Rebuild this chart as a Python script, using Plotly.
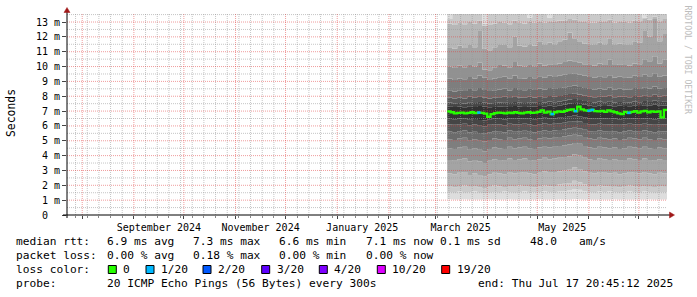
import pandas as pd
import plotly.graph_objects as go

# ------------------------------------------------------------------ data
END_TIME = "2025-07-17 20:45:12"
SPAN_DAYS = 360
SMOKE_START = "2025-03-08"
SMOKE_STEP = "3D"
MEDIAN_STEP = "2D"

# 20 sorted ping round-trip times (ms), one value per 3-day bin
ping_01 = [1.06,1.05,1.05,1.06,1.05,1.05,1.04,1.05,1.06,1.05,1.05,1.05,1.06,1.05,1.05,1.04,1.05,1.05,1.06,1.05,1.05,1.05,1.06,1.05,1.05,1.07,1.06,1.05,1.05,1.05,1.04,1.05,1.05,1.06,1.05,1.05,1.05,1.04,1.05,1.05,1.06,1.05,1.05,1.05]
ping_02 = [1.55,1.5,1.58,1.5,1.52,1.6,1.5,1.45,1.5,1.55,1.5,1.58,1.52,1.5,1.55,1.6,1.5,1.55,1.52,1.6,1.55,1.5,1.58,1.62,1.65,1.75,1.7,1.6,1.55,1.5,1.58,1.52,1.6,1.55,1.5,1.52,1.6,1.55,1.5,1.58,1.55,1.5,1.52,1.55]
ping_03 = [1.95,1.85,1.9,2.0,1.9,1.95,1.85,1.8,1.9,2.0,1.92,1.88,1.95,1.9,2.0,1.95,1.9,1.85,1.95,2.0,1.92,1.95,2.05,2.1,2.15,2.3,2.2,2.05,1.95,1.9,2.0,1.92,1.95,1.9,1.85,1.95,2.0,1.92,1.9,1.95,1.9,1.88,1.95,1.9]
ping_04 = [2.8,2.75,2.85,2.9,2.7,2.8,2.7,2.6,2.75,2.85,2.8,2.75,2.9,2.8,2.85,2.9,2.8,2.75,2.85,2.95,2.85,2.9,2.95,3.0,3.05,3.2,3.1,2.95,2.85,2.8,2.9,2.85,2.8,2.85,2.75,2.8,2.9,2.85,2.8,2.9,2.8,2.75,2.85,2.8]
ping_05 = [3.7,3.65,3.75,3.8,3.6,3.7,3.6,3.5,3.65,3.75,3.7,3.65,3.8,3.7,3.75,3.8,3.7,3.65,3.75,3.85,3.75,3.8,3.85,3.9,3.95,4.1,4.0,3.85,3.75,3.7,3.8,3.75,3.7,3.75,3.65,3.7,3.8,3.75,3.7,3.8,3.7,3.65,3.75,3.7]
ping_06 = [4.5,4.45,4.55,4.6,4.4,4.5,4.4,4.3,4.45,4.55,4.5,4.45,4.6,4.5,4.55,4.6,4.5,4.45,4.55,4.6,4.55,4.6,4.65,4.7,4.75,4.85,4.8,4.65,4.55,4.5,4.6,4.55,4.5,4.55,4.45,4.5,4.6,4.55,4.5,4.6,4.5,4.45,4.55,4.5]
ping_07 = [5.1,5.05,5.15,5.2,5.0,5.1,5.0,4.95,5.05,5.15,5.1,5.05,5.2,5.1,5.15,5.2,5.1,5.05,5.15,5.2,5.15,5.2,5.25,5.3,5.35,5.4,5.35,5.25,5.15,5.1,5.2,5.15,5.1,5.15,5.05,5.1,5.2,5.15,5.1,5.2,5.1,5.05,5.15,5.1]
ping_08 = [5.62,5.58,5.65,5.7,5.55,5.6,5.52,5.48,5.58,5.65,5.6,5.55,5.7,5.6,5.65,5.68,5.6,5.55,5.65,5.7,5.65,5.7,5.72,5.78,5.82,5.88,5.85,5.75,5.65,5.6,5.7,5.65,5.6,5.65,5.58,5.62,5.7,5.65,5.6,5.7,5.62,5.58,5.65,5.62]
ping_09 = [6.1,6.08,6.12,6.15,6.05,6.1,6.02,5.98,6.08,6.12,6.1,6.05,6.15,6.1,6.12,6.15,6.1,6.05,6.12,6.18,6.12,6.15,6.18,6.22,6.28,6.32,6.3,6.2,6.12,6.1,6.15,6.12,6.1,6.12,6.08,6.1,6.15,6.12,6.1,6.15,6.1,6.08,6.12,6.1]
ping_10 = [6.48,6.45,6.5,6.52,6.42,6.46,6.4,6.38,6.45,6.5,6.48,6.44,6.52,6.48,6.5,6.52,6.48,6.45,6.5,6.55,6.5,6.52,6.55,6.6,6.65,6.7,6.65,6.58,6.5,6.48,6.52,6.5,6.48,6.5,6.45,6.48,6.52,6.5,6.48,6.52,6.48,6.45,6.5,6.48]
ping_11 = [7.32,7.28,7.3,7.25,7.32,7.28,7.35,7.3,7.25,7.28,7.3,7.32,7.28,7.34,7.3,7.28,7.32,7.3,7.34,7.32,7.36,7.32,7.36,7.42,7.5,7.55,7.48,7.42,7.36,7.32,7.36,7.34,7.38,7.32,7.36,7.34,7.32,7.36,7.34,7.4,7.36,7.42,7.36,7.38]
ping_12 = [7.58,7.52,7.55,7.5,7.6,7.55,7.62,7.56,7.5,7.55,7.58,7.6,7.54,7.62,7.56,7.54,7.6,7.56,7.62,7.58,7.64,7.6,7.64,7.7,7.78,7.82,7.75,7.68,7.62,7.58,7.64,7.6,7.66,7.58,7.62,7.6,7.58,7.64,7.6,7.68,7.62,7.7,7.62,7.66]
ping_13 = [7.92,7.85,7.9,7.84,7.96,7.9,8.0,7.92,7.85,7.9,7.94,7.96,7.88,8.0,7.92,7.9,7.96,7.92,8.0,7.94,8.02,7.96,8.02,8.08,8.15,8.2,8.12,8.04,7.98,7.94,8.0,7.96,8.04,7.94,7.98,7.96,7.94,8.02,7.96,8.06,8.0,8.1,7.98,8.04]
ping_14 = [8.4,8.32,8.4,8.35,8.48,8.4,8.55,8.42,8.35,8.4,8.46,8.5,8.38,8.55,8.42,8.4,8.48,8.42,8.52,8.45,8.55,8.48,8.55,8.6,8.68,8.72,8.62,8.55,8.48,8.44,8.52,8.46,8.58,8.44,8.5,8.46,8.44,8.55,8.48,8.6,8.52,8.65,8.5,8.56]
ping_15 = [9.2,9.1,9.2,9.15,9.3,9.2,9.4,9.25,9.1,9.2,9.28,9.32,9.18,9.4,9.22,9.2,9.3,9.22,9.35,9.25,9.38,9.3,9.38,9.45,9.5,9.55,9.45,9.38,9.3,9.25,9.35,9.28,9.42,9.26,9.32,9.28,9.25,9.38,9.3,9.45,9.35,9.55,9.32,9.4]
ping_16 = [10.0,9.9,10.05,9.95,10.1,10.0,10.25,9.8,9.75,9.95,10.1,10.05,9.95,10.3,10.05,10.0,10.1,10.02,10.2,10.05,10.15,10.1,10.2,10.3,10.4,10.35,10.25,10.15,10.1,10.05,10.2,10.1,10.45,10.1,10.15,10.1,10.05,10.2,10.15,10.5,10.35,10.7,10.2,10.45]
ping_17 = [11.3,11.2,11.4,11.25,11.5,11.3,12.4,11.2,11.1,11.3,11.45,11.5,11.3,12.0,11.4,11.35,11.5,11.4,11.7,11.45,11.6,11.5,11.7,11.8,12.3,11.9,11.7,11.55,11.5,11.45,11.6,11.5,11.9,11.45,11.55,11.5,11.45,11.7,11.6,12.4,12.0,13.2,11.7,12.2]
ping_18 = [12.9,12.8,12.95,12.85,13.0,12.9,13.1,12.75,12.8,12.9,13.0,12.95,12.85,13.1,12.95,12.9,13.0,12.95,13.05,12.95,13.05,13.0,13.1,13.1,13.2,13.15,13.05,13.0,12.95,12.95,13.05,13.0,13.15,12.95,13.05,13.0,12.95,13.1,13.05,13.25,13.15,13.35,13.05,13.2]
ping_19 = [13.2,13.8,13.9,13.8,13.9,13.8,13.9,12.9,13.8,13.9,13.8,13.9,13.8,13.9,13.8,13.9,13.3,13.8,13.9,13.8,13.3,13.9,13.8,13.9,13.9,13.8,13.9,13.8,13.9,13.8,13.9,13.8,13.9,13.8,13.9,13.8,13.9,13.8,13.9,13.3,13.9,13.8,13.9,13.8]
ping_20 = [14.6,14.5,14.7,14.6,14.5,14.6,14.8,14.5,14.6,14.7,14.5,14.6,14.5,14.7,14.6,14.5,14.6,14.7,14.5,14.6,14.5,14.6,14.7,14.6,14.8,14.7,14.6,14.5,14.6,14.5,14.7,14.6,14.5,14.6,14.5,14.7,14.6,14.5,14.6,14.7,14.6,14.8,14.6,14.7]

# median rtt (ms), one value per 2-day bin, and number of lost pings (of 20)
median_rtt = [6.98,6.92,6.85,6.88,6.9,6.84,6.88,6.92,6.86,6.9,6.88,6.83,6.62,6.8,6.86,6.9,6.88,6.85,6.9,6.87,6.92,6.88,6.85,6.9,6.92,6.88,6.9,6.95,7.05,6.9,6.96,6.8,6.92,6.98,6.95,7.02,7.08,7.12,7.0,7.3,7.12,7.05,7.02,7.08,7.0,6.98,7.02,6.95,7.05,6.98,6.92,6.85,6.8,6.95,6.88,6.95,7.0,6.9,6.98,7.02,6.92,6.98,6.95,6.98,6.58,7.08]
median_loss = [0,0,0,0,0,0,0,0,0,1,0,0,0,0,0,0,0,0,0,0,0,0,0,0,0,0,0,0,0,0,0,1,0,0,0,0,0,0,1,0,0,0,1,1,0,0,0,0,0,0,0,0,0,0,1,0,0,0,0,0,0,0,0,0,0,0]

y_tick_values = [0, 1, 2, 3, 4, 5, 6, 7, 8, 9, 10, 11, 12, 13]
y_tick_labels = ["0  ", "1 m", "2 m", "3 m", "4 m", "5 m", "6 m", "7 m", "8 m", "9 m",
                 "10 m", "11 m", "12 m", "13 m"]
labelled_months = ["2024-09", "2024-11", "2025-01", "2025-03", "2025-05"]

loss_legend = [("0", "#26ff00"), ("1/20", "#00b8ff"), ("2/20", "#0059ff"),
               ("3/20", "#5e00ff"), ("4/20", "#7e00ff"), ("10/20", "#dd00ff"),
               ("19/20", "#ff0000")]
loss_colors = {0: "#26ff00", 1: "#00b8ff", 2: "#0059ff", 3: "#5e00ff", 4: "#7e00ff"}

legend_row1 = [("median rtt:", 16), ("6.9 ms avg", 107.3), ("7.3 ms max", 193.3),
               ("6.6 ms min", 279.3), ("7.1 ms now", 366), ("0.1 ms sd", 440),
               ("48.0", 530), ("am/s", 579.3)]
legend_row2 = [("packet loss:", 16), ("0.00 % avg", 107.3), ("0.18 % max", 193.3),
               ("0.00 % min", 279.3), ("0.00 % now", 366)]
legend_row3_label = ("loss color:", 16)
legend_row3_boxes = [108.3, 146, 203, 261.7, 319.3, 377.3, 441.7]
legend_row4 = [("probe:", 16), ("20 ICMP Echo Pings (56 Bytes) every 300s", 107.3),
               ("end: Thu Jul 17 20:45:12 2025", 478.3)]

# ------------------------------------------------------------------ layout constants
W, H = 697, 297
L, R, T, B = 67, 667, 14, 215
PW, PH = R - L, B - T
YMAX = 13.54
MONO = "DejaVu Sans Mono"
LEGEND_SIZE = 11.2


def px(xp):
    return (xp - L) / PW


def py(yp):
    return (B - yp) / PH


end = pd.Timestamp(END_TIME)
start = end - pd.Timedelta(days=SPAN_DAYS)

pings = [ping_01, ping_02, ping_03, ping_04, ping_05, ping_06, ping_07, ping_08, ping_09, ping_10,
         ping_11, ping_12, ping_13, ping_14, ping_15, ping_16, ping_17, ping_18, ping_19, ping_20]
n_s = len(ping_01)
t_smoke = list(pd.date_range(SMOKE_START, periods=n_s + 1, freq=SMOKE_STEP))
half = len(pings) // 2

fig = go.Figure()

# smoke bands
for m, p in enumerate(pings):
    y = list(p) + [p[-1]]
    if m == 0:
        fig.add_trace(go.Scatter(x=t_smoke, y=y, mode="lines", line=dict(width=0, shape="hv"),
                                 hoverinfo="skip", showlegend=False))
        continue
    i = m if m <= half else len(pings) - m
    lvl = int(190 / half * (half - i)) + 50
    fig.add_trace(go.Scatter(x=t_smoke, y=y, mode="lines", line=dict(width=0, shape="hv"),
                             fill="tonexty", fillcolor=f"rgb({lvl},{lvl},{lvl})",
                             hoverinfo="skip", showlegend=False))

# grid (drawn above smoke like rrdtool)
month_starts = list(pd.date_range(start.normalize(), end, freq="MS"))
weeks = [d for d in pd.date_range(start.normalize(), end, freq="W-SUN") if d not in month_starts]
minor_h = [v + 0.5 for v in y_tick_values if v + 0.5 < YMAX]
major_h = [v for v in y_tick_values if v > 0]


def vlines(ds):
    xs, ys = [], []
    for d in ds:
        xs += [d, d, None]
        ys += [0, YMAX, None]
    return xs, ys


def hlines(vs):
    xs, ys = [], []
    for v in vs:
        xs += [start, end, None]
        ys += [v, v, None]
    return xs, ys


GRID_MINOR = "rgba(150,150,150,0.55)"
GRID_MAJOR = "rgba(225,60,60,0.5)"
for (xs, ys), col in [(vlines(weeks), GRID_MINOR), (hlines(minor_h), GRID_MINOR),
                      (vlines(month_starts), GRID_MAJOR), (hlines(major_h), GRID_MAJOR)]:
    fig.add_trace(go.Scatter(x=xs, y=ys, mode="lines", line=dict(color=col, width=1, dash="1px,1px"),
                             hoverinfo="skip", showlegend=False))

# median line
t_med = list(pd.date_range(SMOKE_START, periods=len(median_rtt) + 1, freq=MEDIAN_STEP))
fig.add_trace(go.Scatter(x=t_med, y=list(median_rtt) + [median_rtt[-1]], mode="lines",
                         line=dict(color=loss_colors[0], width=2.3, shape="hv"),
                         hoverinfo="skip", showlegend=False))
for lossv in sorted(set(median_loss)):
    if lossv == 0:
        continue
    xs, ys = [], []
    for k, (v, lv) in enumerate(zip(median_rtt, median_loss)):
        if lv == lossv:
            xs += [t_med[k], t_med[k + 1], None]
            ys += [v, v, None]
    fig.add_trace(go.Scatter(x=xs, y=ys, mode="lines", line=dict(color=loss_colors[lossv], width=2.6),
                             hoverinfo="skip", showlegend=False))

# x tick labels
x_ticktext = [d.strftime("%B %Y") if d.strftime("%Y-%m") in labelled_months else "" for d in month_starts]

fig.update_layout(
    width=W, height=H,
    margin=dict(l=L, r=W - R, t=T, b=H - B, pad=0),
    paper_bgcolor="white", plot_bgcolor="white",
    showlegend=False,
    xaxis=dict(range=[start, end], tickmode="array", tickvals=month_starts, ticktext=x_ticktext,
               ticklabelshift=25, showgrid=False, zeroline=False, showline=False,
               ticks="outside", ticklen=3, tickcolor="#444", tickwidth=1,
               tickfont=dict(family=MONO, size=10, color="black"),
               minor=dict(tickmode="array", tickvals=weeks, ticks="outside", ticklen=2,
                          tickcolor="#888", showgrid=False)),
    yaxis=dict(range=[0, YMAX], tickmode="array", tickvals=y_tick_values,
               ticktext=[s.replace(" ", "\u00a0") for s in y_tick_labels],
               showgrid=False, zeroline=False, showline=False,
               ticks="outside", ticklen=4, tickcolor="#444", tickwidth=1,
               tickfont=dict(family=MONO, size=10, color="black")),
)

shapes = []
AX = "#000000"
ARROW = "#a01818"
# axis lines
shapes.append(dict(type="line", xref="paper", yref="paper", x0=px(L), x1=px(L), y0=py(218), y1=py(10),
                   line=dict(color=AX, width=1)))
shapes.append(dict(type="line", xref="paper", yref="paper", x0=px(63), x1=px(671), y0=py(B), y1=py(B),
                   line=dict(color=AX, width=1)))
# arrows
shapes.append(dict(type="path", xref="paper", yref="paper",
                   path=f"M {px(64)} {py(12.5)} L {px(70)} {py(12.5)} L {px(67)} {py(7.5)} Z",
                   fillcolor=ARROW, line=dict(color=ARROW, width=0.5)))
shapes.append(dict(type="path", xref="paper", yref="paper",
                   path=f"M {px(669.5)} {py(212)} L {px(669.5)} {py(218)} L {px(674.5)} {py(215)} Z",
                   fillcolor=ARROW, line=dict(color=ARROW, width=0.5)))
# loss colour boxes
for (lab, col), bx in zip(loss_legend, legend_row3_boxes):
    shapes.append(dict(type="rect", xref="paper", yref="paper", x0=px(bx), x1=px(bx + 8),
                       y0=py(273.5), y1=py(265.5), fillcolor=col, line=dict(color="black", width=1)))
fig.update_layout(shapes=shapes)

ann = []


def text(t, xp, yp, size=LEGEND_SIZE, color="black", angle=0, xanchor="left"):
    ann.append(dict(text=t.replace(" ", "\u00a0"), x=px(xp), y=py(yp), xref="paper", yref="paper",
                    xanchor=xanchor, yanchor="middle", showarrow=False, textangle=angle,
                    borderpad=0, borderwidth=0,
                    font=dict(family=MONO, size=size, color=color)))


for s, xp in legend_row1:
    text(s, xp, 241.5)
for s, xp in legend_row2:
    text(s, xp, 255.5)
text(legend_row3_label[0], legend_row3_label[1], 269.5)
for (lab, col), bx in zip(loss_legend, legend_row3_boxes):
    text(lab, bx + 15, 269.5)
for s, xp in legend_row4:
    text(s, xp, 283.5)

# axis title and watermark
ann.append(dict(text="Seconds", x=px(10.5), y=py(113.5), xref="paper", yref="paper",
                xanchor="center", yanchor="middle", showarrow=False, textangle=-90,
                borderpad=0, borderwidth=0, font=dict(family=MONO, size=11.4, color="black")))
ann.append(dict(text="RRDTOOL / TOBI OETIKER".replace(" ", "\u00a0"), x=px(688), y=py(59.5),
                xref="paper", yref="paper", xanchor="center", yanchor="middle", showarrow=False,
                textangle=90, borderpad=0, borderwidth=0,
                font=dict(family=MONO, size=8.2, color="#bdbdbd")))
fig.update_layout(annotations=ann)

fig.write_html("out.html")
